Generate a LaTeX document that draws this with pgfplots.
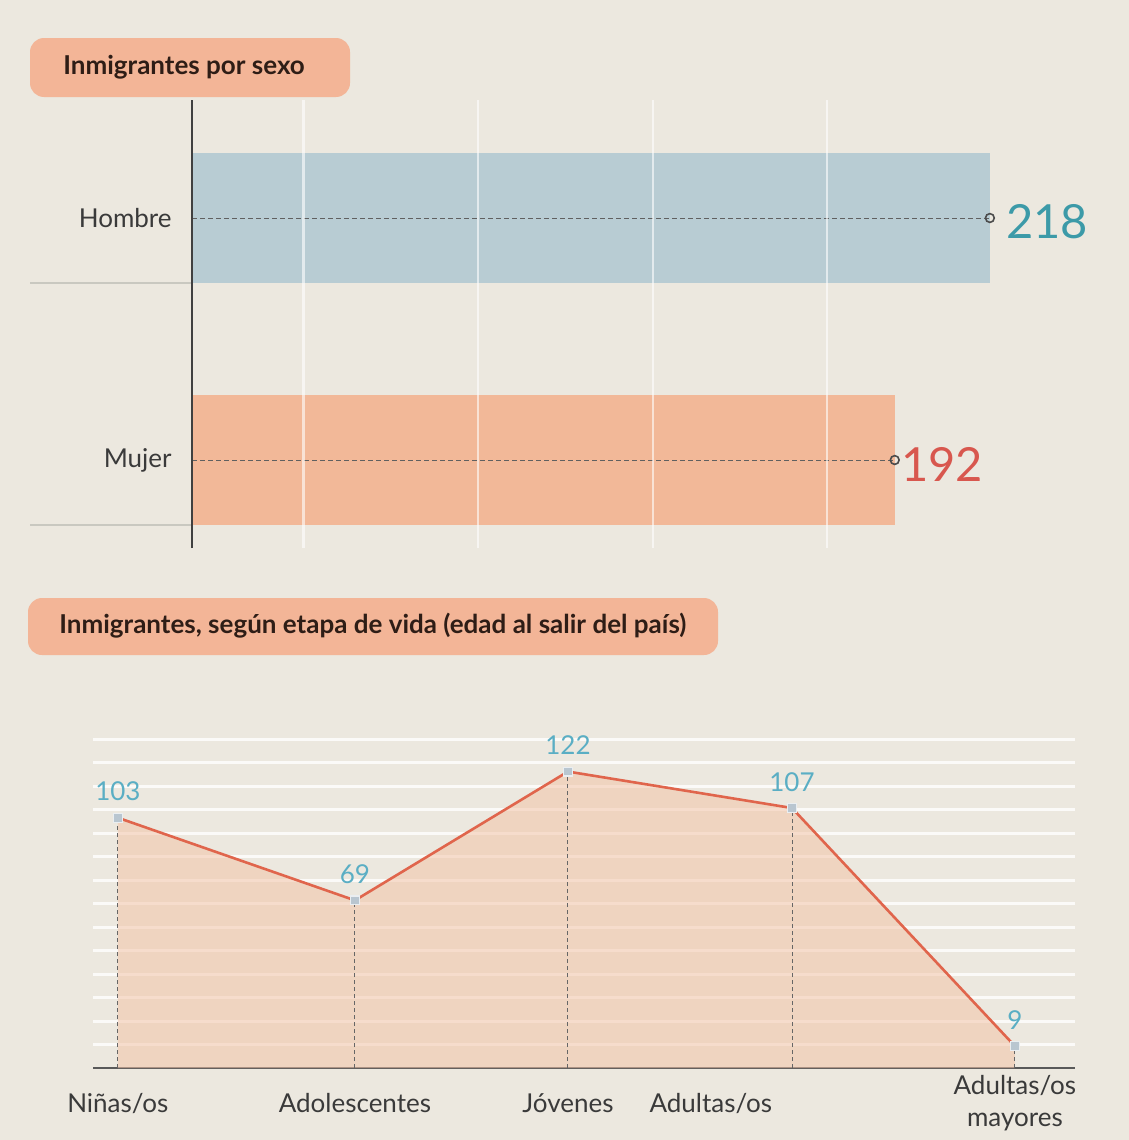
\documentclass[border=0pt]{standalone}
\usepackage{pgfplots}
\pgfplotsset{compat=1.18}
\usepackage{fontspec}
\setmainfont{Lato}
\definecolor{bg}{HTML}{ECE8DF}
\definecolor{titlebox}{HTML}{F3B597}
\definecolor{titletext}{HTML}{2E1D16}
\definecolor{barblue}{HTML}{B8CCD3}
\definecolor{barsalmon}{HTML}{F2B898}
\definecolor{areafill}{HTML}{F2C4A8}
\definecolor{linered}{HTML}{E0654C}
\definecolor{numteal}{HTML}{5AAEC4}
\definecolor{bigteal}{HTML}{3C9AA8}
\definecolor{bigred}{HTML}{D8574E}
\definecolor{labelgray}{HTML}{3A3A3A}
\definecolor{markfill}{HTML}{B9C6D0}
\definecolor{sepgray}{HTML}{C9C8C0}
\begin{document}
\begin{tikzpicture}
\begin{scope}[x=0.5pt,y=-0.5pt]
\fill[bg] (0,0) rectangle (1129,1140);
\fill[titlebox, rounded corners=7pt] (30,38) rectangle (350,97);
\node[anchor=west, inner sep=0pt, text=titletext, font=\fontsize{13pt}{15pt}\selectfont\bfseries] at (63,67) {Inmigrantes por sexo};
\fill[titlebox, rounded corners=7pt] (28,598) rectangle (718,655);
\node[anchor=west, inner sep=0pt, text=titletext, font=\fontsize{13pt}{15pt}\selectfont\bfseries] at (59,626) {Inmigrantes, según etapa de vida (edad al salir del país)};
\draw[sepgray, line width=1pt] (30,283) -- (192,283);
\draw[sepgray, line width=1pt] (30,525) -- (192,525);
\end{scope}

\begin{axis}[
  at={(96pt,-274pt)}, anchor=south west,
  scale only axis, width=457.5pt, height=224pt,
  xmin=0, xmax=250, ymin=-0.3636, ymax=1.4876,
  axis on top,
  axis lines*=left,
  x axis line style={draw=none},
  y axis line style={draw=black!75, line width=1pt, -},
  xtick={30.5,78.1,126,173.5}, xticklabels={},
  xmajorgrids, grid style={white, line width=1.2pt, opacity=0.6},
  ytick={0,1}, yticklabels={Mujer,Hombre},
  major tick length=0pt,
  yticklabel style={font=\fontsize{13pt}{15pt}\selectfont, text=labelgray, inner sep=0pt, xshift=-10pt},
  clip=false,
  /pgf/number format/assume math mode=true,
]
\addplot[xbar, bar width=65pt, bar shift=0pt, fill=barblue, draw=none,
  point meta=x, nodes near coords,
  every node near coord/.append style={anchor=west, inner sep=0pt, xshift=8pt, yshift=-2pt, text=bigteal, font=\fontsize{23.5pt}{26pt}\selectfont}]
  coordinates {(218,1)};
\addplot[xbar, bar width=65pt, bar shift=0pt, fill=barsalmon, draw=none,
  point meta=x, nodes near coords,
  every node near coord/.append style={anchor=west, inner sep=0pt, xshift=3pt, yshift=-2pt, text=bigred, font=\fontsize{23.5pt}{26pt}\selectfont}]
  coordinates {(192,0)};
\addplot[draw=gray!75!black, line width=0.5pt, dash pattern=on 2.5pt off 1.5pt, mark=o, mark indices={2}, mark size=2.2pt,
  mark options={solid, fill=bg, draw=gray!60!black, line width=0.8pt}]
  coordinates {(0,1) (218,1)};
\addplot[draw=gray!75!black, line width=0.5pt, dash pattern=on 2.5pt off 1.5pt, mark=o, mark indices={2}, mark size=2.2pt,
  mark options={solid, fill=bg, draw=gray!60!black, line width=0.8pt}]
  coordinates {(0,0) (192,0)};
\end{axis}

\begin{axis}[
  at={(46.5pt,-534pt)}, anchor=south west,
  scale only axis, width=491pt, height=164.5pt,
  xmin=-0.111, xmax=4.268, ymin=0, ymax=135.4,
  axis lines*=left,
  y axis line style={draw=none},
  x axis line style={draw=black!65, line width=1.2pt, -},
  ytick={9.67,19.34,29.01,38.68,48.35,58.02,67.69,77.36,87.03,96.7,106.37,116.04,125.71,135.38},
  yticklabels={},
  ymajorgrids, grid style={white, line width=1.5pt, opacity=0.8},
  xtick={0,1.057,2.007,2.644,4},
  xticklabels={Niñas/os, Adolescentes, Jóvenes, Adultas/os, Adultas/os\\mayores},
  xticklabel style={anchor=center, yshift=-17.5pt, align=center, font=\fontsize{13pt}{16pt}\selectfont, text=labelgray},
  major tick length=0pt,
  clip=false,
  /pgf/number format/assume math mode=true,
]
\addplot[draw=none, fill=areafill, fill opacity=0.55]
  coordinates {(0,103) (1.057,69) (2.007,122) (3.006,107) (4,9)} \closedcycle;
\addplot[ycomb, draw=gray!80!black, line width=0.5pt, dash pattern=on 2pt off 1.5pt]
  coordinates {(0,103) (1.057,69) (2.007,122) (3.006,107) (4,9)};
\addplot[linered, line width=1.3pt, mark=square*, mark size=2.2pt,
  mark options={fill=markfill, draw=white!70!markfill, line width=0.6pt},
  nodes near coords,
  every node near coord/.append style={anchor=south, inner sep=0pt, yshift=8pt, text=numteal, font=\fontsize{13pt}{15pt}\selectfont}]
  coordinates {(0,103) (1.057,69) (2.007,122) (3.006,107) (4,9)};
\end{axis}
\pgfresetboundingbox
\path (0pt,0pt) rectangle (564.5pt,-570pt);
\end{tikzpicture}
\end{document}
